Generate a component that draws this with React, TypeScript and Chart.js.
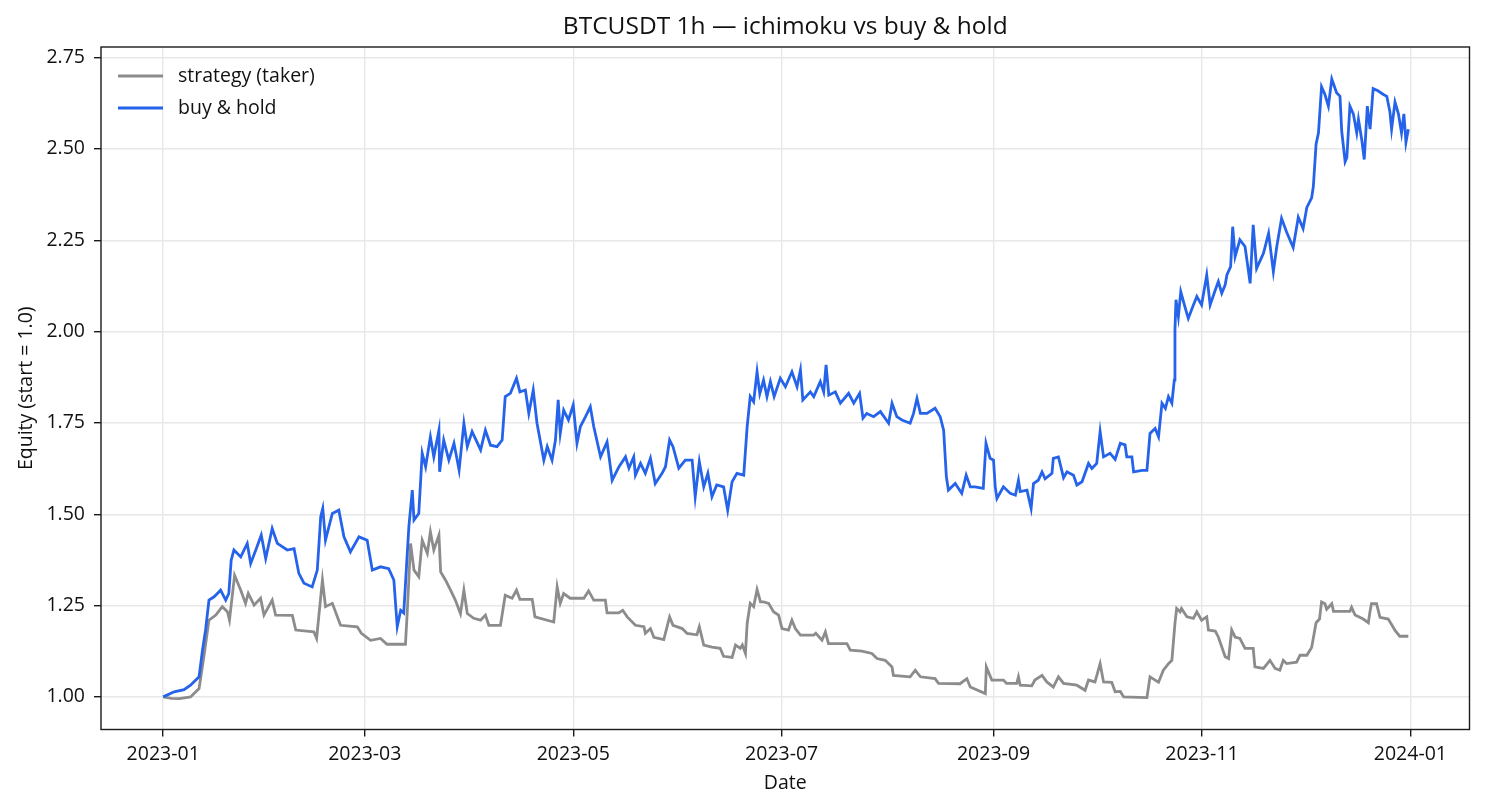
import { useEffect, useRef } from "react";
import { Chart, registerables } from "chart.js";

Chart.register(...registerables);

const TITLE = "BTCUSDT 1h — ichimoku vs buy & hold";
const FONT = '"Open Sans", "Noto Sans", sans-serif';

// x values: days since 2023-01-01 00:00
const monthTickDays = [0, 59, 120, 181, 243, 304, 365];
const monthTickLabels = ["2023-01", "2023-03", "2023-05", "2023-07", "2023-09", "2023-11", "2024-01"];
const equityTicks = [1.0, 1.25, 1.5, 1.75, 2.0, 2.25, 2.5, 2.75];

const seriesLabels = ["strategy (taker)", "buy & hold"];
const seriesColors = ["#8c8c8c", "#2563eb"];

const strategyDays = [
  0, 2.4, 4.8, 8, 10.5, 11.9, 13.4, 15.4, 17.3, 18.8,
  19.4, 20.9, 22.7, 24.1, 24.9, 26.6, 28.5, 29.5, 31.9, 32.9,
  37.8, 38.8, 44.1, 44.9, 46.6, 47.5, 49.5, 51.9, 56.8, 58,
  60.7, 63.6, 65.5, 70.9, 71.4, 72.4, 73.4, 74.8, 75.8, 77.3,
  78.2, 79.2, 80.7, 81.2, 82.6, 84.1, 85.5, 87, 88, 89,
  90.9, 92.9, 94.3, 95.3, 98.7, 100.1, 102.1, 103.4, 104.4, 108,
  108.8, 114.3, 115.3, 116.2, 117.2, 119.1, 123.1, 124.5, 126, 129.4,
  129.9, 133.3, 134.5, 135.8, 138.2, 140.7, 141.1, 142.6, 143.6, 146.5,
  148.2, 149.2, 151.9, 153.3, 156.2, 156.9, 158.2, 160.6, 163, 164,
  166.5, 167.5, 168.9, 169.5, 170.4, 170.9, 171.8, 172.8, 173.8, 174.8,
  175.7, 177.2, 178.6, 180.1, 181.1, 183, 184, 185, 186.5, 190.4,
  191, 192.8, 193.8, 194.7, 200.1, 201.1, 204.5, 207.4, 208.9, 211.3,
  213.3, 213.7, 218.6, 220.1, 221.6, 225.9, 226.9, 233.2, 235.2, 236.2,
  240.6, 240.9, 242.5, 245.9, 246.8, 249.8, 250.3, 250.8, 254.2, 255.1,
  257.2, 258.6, 260.5, 262, 263.5, 267.4, 269.8, 270.8, 272.7, 274.2,
  275.2, 277.6, 278.6, 280.1, 281.1, 287.9, 288.8, 290.3, 291.3, 292.7,
  294.2, 295.2, 296.1, 296.6, 297.6, 298, 299.6, 301.5, 302.5, 303.9,
  305.4, 305.9, 307.9, 308.8, 310.8, 311.8, 312.7, 313.7, 315.1, 316.6,
  319, 319.5, 322, 323.9, 325.4, 326.8, 327.8, 328.8, 331.7, 332.7,
  334.7, 336.1, 337.4, 338.4, 339, 340, 340.5, 342, 342.5, 347.3,
  347.8, 348.8, 351.2, 352.7, 353.1, 353.6, 355.1, 356.1, 358.5, 359.5,
  360.5, 361.9, 364.4,
];
const strategyEquity = [
  1.0, 0.996, 0.995, 1.0, 1.023, 1.11, 1.21, 1.224, 1.247, 1.233,
  1.21, 1.333, 1.292, 1.256, 1.283, 1.251, 1.27, 1.224, 1.265, 1.224,
  1.223, 1.183, 1.178, 1.16, 1.32, 1.247, 1.256, 1.196, 1.192, 1.174,
  1.155, 1.16, 1.144, 1.144, 1.228, 1.42, 1.347, 1.329, 1.429, 1.393,
  1.452, 1.402, 1.443, 1.342, 1.32, 1.292, 1.265, 1.228, 1.292, 1.228,
  1.215, 1.21, 1.224, 1.196, 1.196, 1.278, 1.27, 1.292, 1.267, 1.267,
  1.219, 1.205, 1.301, 1.256, 1.283, 1.27, 1.27, 1.29, 1.265, 1.265,
  1.23, 1.23, 1.237, 1.219, 1.196, 1.192, 1.174, 1.187, 1.163, 1.157,
  1.219, 1.196, 1.187, 1.174, 1.17, 1.192, 1.142, 1.136, 1.133, 1.111,
  1.108, 1.142, 1.133, 1.142, 1.119, 1.201, 1.256, 1.247, 1.294, 1.26,
  1.26, 1.256, 1.233, 1.224, 1.187, 1.183, 1.21, 1.187, 1.169, 1.169,
  1.174, 1.155, 1.178, 1.146, 1.146, 1.128, 1.125, 1.119, 1.105, 1.1,
  1.082, 1.059, 1.055, 1.073, 1.055, 1.05, 1.037, 1.036, 1.05, 1.027,
  1.009, 1.082, 1.046, 1.046, 1.037, 1.037, 1.055, 1.032, 1.03, 1.046,
  1.059, 1.041, 1.027, 1.055, 1.037, 1.032, 1.018, 1.046, 1.041, 1.091,
  1.041, 1.04, 1.014, 1.015, 1.0, 0.998, 1.055, 1.046, 1.04, 1.073,
  1.091, 1.1, 1.201, 1.242, 1.233, 1.242, 1.219, 1.215, 1.233, 1.21,
  1.219, 1.183, 1.18, 1.164, 1.11, 1.105, 1.183, 1.164, 1.16, 1.133,
  1.133, 1.082, 1.078, 1.1, 1.078, 1.073, 1.1, 1.091, 1.095, 1.114,
  1.114, 1.135, 1.203, 1.213, 1.26, 1.255, 1.24, 1.255, 1.234, 1.234,
  1.245, 1.224, 1.213, 1.203, 1.229, 1.255, 1.255, 1.218, 1.213, 1.198,
  1.182, 1.166, 1.166,
];

const holdDays = [
  0, 3.2, 6.1, 8, 10.5, 11.5, 12.4, 13.4, 14.9, 16.8,
  18.3, 19.2, 19.9, 20.7, 22.7, 24.6, 25.6, 27.1, 28.7, 30,
  31.9, 33.4, 36.3, 38.3, 39.7, 41.2, 43.6, 45.1, 46.1, 46.7,
  47.5, 49.5, 51.4, 52.9, 54.8, 57.3, 59.7, 61.2, 63.6, 66,
  67.5, 68.5, 69.5, 70.4, 71.2, 71.9, 72.9, 73.4, 74.8, 75.8,
  76.8, 78.2, 79.2, 80.7, 80.9, 82.1, 83.6, 85.1, 86.6, 88,
  89, 90.4, 92.9, 94.3, 95.8, 97.7, 99.2, 100.1, 101.6, 103.4,
  104.4, 106, 107, 108.3, 109.4, 111.4, 112.4, 113.8, 114.8, 115.6,
  116.2, 117.2, 118.6, 120, 121.1, 122.1, 123.6, 125, 126, 128,
  129.9, 131.4, 133.4, 135.3, 136.3, 137.7, 138.2, 139.7, 141.1, 142.6,
  144, 146, 147, 148.2, 149.2, 150.9, 152.8, 154.8, 155.7, 156.9,
  158.2, 159.4, 160.6, 162, 164, 165.2, 166.5, 167.9, 169.9, 170.9,
  171.8, 172.8, 173.8, 174.6, 175.7, 176.7, 177.7, 178.8, 180.6, 182.1,
  184, 185.5, 186.5, 187.2, 189.4, 190.4, 192.3, 193.3, 194, 194.8,
  196.7, 198.2, 200.6, 202.1, 203.8, 204.8, 205.9, 207.9, 209.9, 212.3,
  213.3, 214.7, 216.2, 218.6, 219.6, 220.6, 221.6, 223.5, 225.9, 227.4,
  228.4, 229.2, 229.8, 231.8, 233.7, 235, 236.2, 237.6, 240, 240.8,
  242, 243, 243.5, 244, 245.9, 247.9, 249.4, 250.3, 250.8, 252.8,
  254, 254.7, 256.1, 257.2, 258.1, 260.1, 260.5, 262, 263.5, 264.5,
  266.4, 267.4, 268.9, 270.8, 271.8, 273.2, 274.2, 275.2, 277.1, 278.6,
  280.1, 281.5, 282, 283.5, 284, 286.5, 287.9, 288.8, 290.3, 291.3,
  292.3, 293.3, 294.2, 295.2, 295.9, 296.1, 296.4, 297.1, 297.8, 299,
  300, 301.5, 302.5, 303.9, 305.4, 306.4, 307.9, 308.8, 309.8, 310.8,
  311.3, 312.4, 313, 313.7, 315.1, 316.6, 317.1, 318.1, 319, 320,
  322, 323.5, 324.9, 325.9, 327.3, 328.8, 330.7, 332.2, 333.6, 334.7,
  336.1, 336.6, 337.4, 338.1, 339, 340, 341, 342, 343.4, 344.4,
  344.9, 345.9, 346.4, 347.3, 348.3, 349.3, 349.8, 350.8, 351.5, 352.4,
  353.2, 354.1, 355.5, 357.1, 358.1, 359, 359.5, 360.5, 361.5, 362.4,
  363.1, 363.7, 364.4,
];
const holdEquity = [
  1.0, 1.014, 1.02, 1.032, 1.055, 1.128, 1.183, 1.265, 1.274, 1.292,
  1.265, 1.283, 1.374, 1.402, 1.383, 1.42, 1.365, 1.402, 1.443, 1.379,
  1.461, 1.42, 1.402, 1.406, 1.338, 1.311, 1.301, 1.347, 1.493, 1.516,
  1.429, 1.502, 1.511, 1.438, 1.397, 1.438, 1.429, 1.347, 1.356, 1.351,
  1.32, 1.192, 1.237, 1.23, 1.356, 1.466, 1.566, 1.484, 1.502, 1.667,
  1.63, 1.712, 1.657, 1.73, 1.616, 1.703, 1.648, 1.694, 1.621, 1.749,
  1.685, 1.726, 1.676, 1.73, 1.689, 1.685, 1.703, 1.822, 1.831, 1.872,
  1.835, 1.84, 1.776, 1.84, 1.749, 1.648, 1.685, 1.648, 1.703, 1.813,
  1.721, 1.785, 1.758, 1.799, 1.694, 1.74, 1.767, 1.794, 1.74, 1.657,
  1.698, 1.593, 1.63, 1.657, 1.626, 1.657, 1.607, 1.639, 1.612, 1.653,
  1.584, 1.612, 1.63, 1.703, 1.685, 1.626, 1.648, 1.648, 1.548, 1.644,
  1.575, 1.612, 1.548, 1.58, 1.575, 1.511, 1.589, 1.612, 1.607, 1.74,
  1.822, 1.808, 1.89, 1.83, 1.867, 1.822, 1.863, 1.822, 1.872, 1.849,
  1.89, 1.849, 1.895, 1.813, 1.835, 1.822, 1.863, 1.835, 1.909, 1.826,
  1.835, 1.804, 1.831, 1.804, 1.831, 1.763, 1.776, 1.767, 1.781, 1.749,
  1.804, 1.767, 1.758, 1.749, 1.776, 1.817, 1.776, 1.776, 1.79, 1.767,
  1.73, 1.603, 1.566, 1.584, 1.557, 1.607, 1.575, 1.575, 1.571, 1.694,
  1.653, 1.648, 1.575, 1.543, 1.575, 1.557, 1.552, 1.593, 1.562, 1.566,
  1.516, 1.584, 1.593, 1.616, 1.597, 1.612, 1.653, 1.657, 1.6, 1.616,
  1.607, 1.58, 1.589, 1.639, 1.625, 1.639, 1.726, 1.657, 1.667, 1.65,
  1.694, 1.69, 1.657, 1.657, 1.616, 1.62, 1.62, 1.721, 1.735, 1.712,
  1.804, 1.79, 1.822, 1.804, 1.867, 2.004, 2.087, 2.041, 2.109, 2.068,
  2.036, 2.073, 2.096, 2.073, 2.155, 2.073, 2.114, 2.137, 2.105, 2.128,
  2.155, 2.178, 2.287, 2.205, 2.251, 2.233, 2.2, 2.132, 2.292, 2.173,
  2.214, 2.269, 2.164, 2.233, 2.31, 2.272, 2.23, 2.313, 2.282, 2.34,
  2.366, 2.397, 2.513, 2.544, 2.67, 2.649, 2.617, 2.691, 2.654, 2.644,
  2.549, 2.465, 2.476, 2.617, 2.596, 2.544, 2.581, 2.523, 2.471, 2.617,
  2.554, 2.665, 2.659, 2.649, 2.644, 2.602, 2.554, 2.628, 2.596, 2.544,
  2.596, 2.518, 2.554,
];

// matplotlib-like box, title over the axes and an in-axes legend
const decorPlugin = {
  id: "decor",
  afterDraw(chart: Chart) {
    const { ctx, chartArea: a } = chart;
    ctx.save();
    ctx.strokeStyle = "#1a1a1a";
    ctx.lineWidth = 1.4;
    ctx.strokeRect(a.left, a.top, a.right - a.left, a.bottom - a.top);

    ctx.fillStyle = "#111";
    ctx.font = `24.5px ${FONT}`;
    ctx.textAlign = "center";
    ctx.textBaseline = "middle";
    ctx.fillText(TITLE, (a.left + a.right) / 2, 27);

    ctx.font = `19.5px ${FONT}`;
    ctx.textAlign = "left";
    seriesLabels.forEach((label, i) => {
      const y = a.top + 29 + i * 32;
      ctx.strokeStyle = seriesColors[i];
      ctx.lineWidth = 2.8;
      ctx.beginPath();
      ctx.moveTo(a.left + 17, y);
      ctx.lineTo(a.left + 62, y);
      ctx.stroke();
      ctx.fillStyle = "#111";
      ctx.fillText(label, a.left + 77, y);
    });
    ctx.restore();
  },
};

export default function App() {
  const canvasRef = useRef<HTMLCanvasElement>(null);
  const chartRef = useRef<Chart | null>(null);

  useEffect(() => {
    document.body.style.margin = "0";
    const ctx = canvasRef.current?.getContext("2d");
    if (!ctx) return;

    const tickFont = { size: 19.5, family: FONT };
    const grid = {
      color: "#e8e8e8",
      lineWidth: 1.4,
      tickColor: "#1a1a1a",
      tickWidth: 1.4,
      tickLength: 7,
    };

    chartRef.current?.destroy();
    chartRef.current = new Chart(ctx, {
      type: "line",
      data: {
        datasets: [
          {
            label: seriesLabels[0],
            data: strategyDays.map((d, i) => ({ x: d, y: strategyEquity[i] })),
            borderColor: seriesColors[0],
            borderWidth: 2.8,
            pointRadius: 0,
            order: 1,
          },
          {
            label: seriesLabels[1],
            data: holdDays.map((d, i) => ({ x: d, y: holdEquity[i] })),
            borderColor: seriesColors[1],
            borderWidth: 2.8,
            pointRadius: 0,
            order: 0,
          },
        ],
      },
      options: {
        animation: false,
        responsive: true,
        maintainAspectRatio: false,
        layout: { padding: { top: 47, right: 15.5, bottom: 0, left: 0 } },
        plugins: {
          legend: { display: false },
          title: { display: false },
          tooltip: { enabled: false },
        },
        scales: {
          x: {
            type: "linear",
            min: -18.2,
            max: 382.3,
            afterBuildTicks: (s: any) => {
              s.ticks = monthTickDays.map((v) => ({ value: v }));
            },
            afterFit: (s: any) => {
              s.height = 80.5;
            },
            ticks: {
              autoSkip: false,
              maxRotation: 0,
              color: "#111",
              font: tickFont,
              padding: 6,
              callback: (_v: any, i: number) => monthTickLabels[i],
            },
            grid,
            border: { display: false },
            title: {
              display: true,
              text: "Date",
              color: "#111",
              font: tickFont,
              padding: { top: 0, bottom: 14.6 },
            },
          },
          y: {
            min: 0.9107,
            max: 2.779,
            afterBuildTicks: (s: any) => {
              s.ticks = equityTicks.map((v) => ({ value: v }));
            },
            afterFit: (s: any) => {
              s.width = 101;
            },
            ticks: {
              color: "#111",
              font: tickFont,
              padding: 9,
              callback: (v: any) => Number(v).toFixed(2),
            },
            grid,
            border: { display: false },
            title: {
              display: true,
              text: "Equity (start = 1.0)",
              color: "#111",
              font: tickFont,
              padding: { top: 14.6, bottom: 0 },
            },
          },
        },
      },
      plugins: [decorPlugin],
    });

    return () => {
      chartRef.current?.destroy();
      chartRef.current = null;
    };
  }, []);

  return (
    <div style={{ width: 1485, height: 810, background: "#fff" }}>
      <canvas ref={canvasRef} />
    </div>
  );
}
